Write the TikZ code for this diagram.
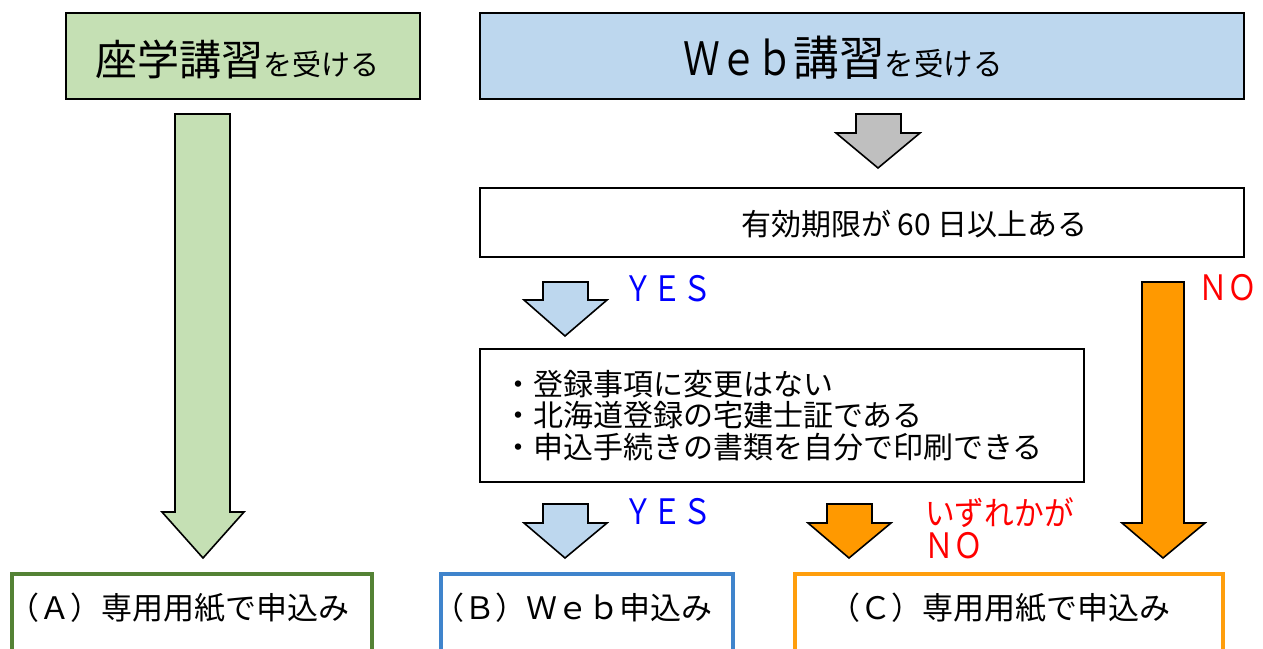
\documentclass[tikz,border=0pt]{standalone}
\usepackage{fontspec}
\setmainfont{Noto Sans CJK JP}
\definecolor{greenfill}{HTML}{C5E0B4}
\definecolor{bluefill}{HTML}{BDD7EE}
\definecolor{grayfill}{HTML}{BFBFBF}
\definecolor{orangefill}{HTML}{FF9900}
\definecolor{boxgreen}{HTML}{548235}
\definecolor{boxblue}{HTML}{3F84CC}
\definecolor{boxorange}{HTML}{FF9E0D}
\definecolor{yesblue}{HTML}{0000FF}
\definecolor{nored}{HTML}{FF0000}
\begin{document}
\begin{tikzpicture}[x=1pt,y=-1pt,
  topbox/.style={draw=black, line width=2.5pt, inner sep=0pt},
  endbox/.style={line width=4.5pt, fill=white, inner sep=0pt},
  blockarrow/.style={draw=black, line width=1.6pt, line join=miter},
  txt/.style={inner sep=0pt, anchor=base west},
  ctxt/.style={inner sep=0pt, anchor=base},
  yesno/.style={inner sep=0pt, anchor=base west}]
\useasboundingbox (0,0) rectangle (1263,648);
\clip (0,0) rectangle (1263,648);
\fill[white] (0,0) rectangle (1263,648);

% top boxes
\node[topbox, fill=greenfill, minimum width=354pt, minimum height=86pt] (b1) at (243,56) {};
\node[topbox, fill=bluefill, minimum width=764pt, minimum height=86pt] (b2) at (862,56) {};
\node[topbox, fill=white, minimum width=764pt, minimum height=69pt] (b3) at (862,222.5) {};
\node[topbox, fill=white, minimum width=604pt, minimum height=133pt] (b4) at (782,415.5) {};

% bottom boxes
\node[endbox, draw=boxgreen, minimum width=360pt, minimum height=80pt] (bA) at (192,614) {};
\node[endbox, draw=boxblue, minimum width=292pt, minimum height=80pt] (bB) at (587,614) {};
\node[endbox, draw=boxorange, minimum width=428pt, minimum height=80pt] (bC) at (1009,614) {};

% texts in boxes
\node[txt] (t1) at (95,75) {{\fontsize{42}{42}\selectfont 座学講習}{\fontsize{29}{29}\selectfont を受ける}};
\node[txt] (t2) at (683,75) {\scalebox{0.8}[1]{\fontsize{46}{46}\selectfont Ｗｅｂ}\scalebox{0.97}[1]{\fontsize{47}{47}\selectfont 講習}\scalebox{0.95}[1]{\fontsize{31}{31}\selectfont を受ける}};
\node[txt] (t3) at (741,235) {\fontsize{30}{30}\selectfont 有効期限が 60 日以上ある};
\node[txt] (t4a) at (503,395) {\fontsize{30}{30}\selectfont ・登録事項に変更はない};
\node[txt] (t4b) at (503,426.5) {\fontsize{30}{30}\selectfont ・北海道登録の宅建士証である};
\node[txt] (t4c) at (503,458) {\fontsize{30}{30}\selectfont ・申込手続きの書類を自分で印刷できる};
\node[ctxt] (tA) at (179,619) {\fontsize{31}{31}\selectfont （Ａ）専用用紙で申込み};
\node[ctxt] (tB) at (573,619) {\fontsize{31}{31}\selectfont （Ｂ）Ｗｅｂ申込み};
\node[ctxt] (tC) at (1000,619) {\fontsize{31}{31}\selectfont （Ｃ）専用用紙で申込み};

% block arrows
\draw[blockarrow, fill=greenfill] (175,114) -- (230,114) -- (230,512) -- (244,512) -- (203,558) -- (162,512) -- (175,512) -- cycle;
\draw[blockarrow, fill=grayfill] (856,114) -- (901,114) -- (901,133) -- (920,133) -- (878,168) -- (836,133) -- (856,133) -- cycle;
\draw[blockarrow, fill=bluefill] (543,282) -- (588,282) -- (588,300) -- (607,300) -- (565,336) -- (524,300) -- (543,300) -- cycle;
\draw[blockarrow, fill=orangefill] (1142,282) -- (1184,282) -- (1184,523) -- (1205,523) -- (1163,558) -- (1122,523) -- (1142,523) -- cycle;
\draw[blockarrow, fill=bluefill] (543,504) -- (588,504) -- (588,523) -- (607,523) -- (565,558) -- (524,523) -- (543,523) -- cycle;
\draw[blockarrow, fill=orangefill] (827,504) -- (872,504) -- (872,523) -- (891,523) -- (849,558) -- (808,523) -- (827,523) -- cycle;

% labels
\node[yesno, text=yesblue] (yes1) at (623,301) {\scalebox{0.85}[1]{\fontsize{35}{35}\selectfont ＹＥＳ}};
\node[yesno, text=nored] (no1) at (1198,300) {\scalebox{0.85}[1]{\fontsize{35}{35}\selectfont ＮＯ}};
\node[yesno, text=yesblue] (yes2) at (623,524) {\scalebox{0.85}[1]{\fontsize{35}{35}\selectfont ＹＥＳ}};
\node[txt, text=nored] (any) at (925,525) {\scalebox{0.9}[1]{\fontsize{33}{33}\selectfont いずれかが}};
\node[yesno, text=nored] (no2) at (924,558) {\scalebox{0.85}[1]{\fontsize{35}{35}\selectfont ＮＯ}};
\end{tikzpicture}
\end{document}
